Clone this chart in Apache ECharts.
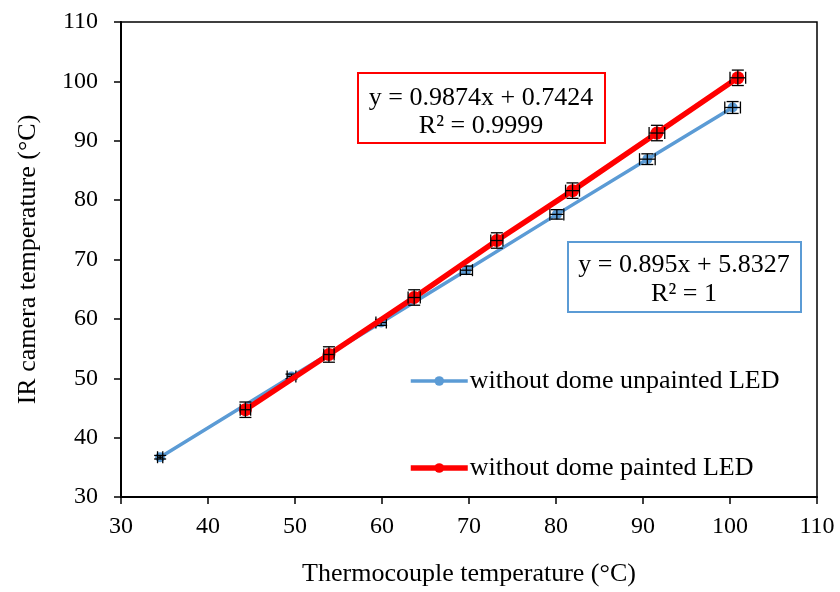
<!DOCTYPE html>
<html>
<head>
<meta charset="utf-8">
<script src="https://cdn.jsdelivr.net/npm/echarts@6/dist/echarts.min.js"></script>
<style>
  html, body { margin: 0; padding: 0; background: #fff; }
  #chart { width: 840px; height: 592px; }
</style>
</head>
<body>
<div id="chart"></div>
<script>
// unpainted LED (blue)
const unpaintedX = [34.5, 49.6, 59.9, 69.7, 80.1, 90.5, 100.3];
const unpaintedY = [36.7, 50.3, 59.4, 68.2, 77.6, 86.9, 95.6];
const unpaintedXErr = [0.3, 0.5, 0.6, 0.7, 0.8, 0.9, 0.9];
const unpaintedYErr = [0.3, 0.4, 0.5, 0.7, 0.8, 0.9, 1.0];

// painted LED (red)
const paintedX = [44.3, 53.9, 63.7, 73.2, 81.9, 91.6, 100.9];
const paintedY = [44.7, 54.0, 63.6, 73.2, 81.6, 91.3, 100.6];
const paintedXErr = [0.6, 0.6, 0.7, 0.7, 0.8, 0.9, 0.9];
const paintedYErr = [1.3, 1.3, 1.3, 1.3, 1.3, 1.3, 1.3];

const xTicks = [30, 40, 50, 60, 70, 80, 90, 100, 110];
const yTicks = [30, 40, 50, 60, 70, 80, 90, 100, 110];

const FONT = '"Liberation Serif", "Times New Roman", serif';
const BLUE = '#5b9bd5';
const RED = '#ff0000';

const zip = (xs, ys) => xs.map((x, i) => [x, ys[i]]);
const errData = (xs, ys, xe, ye) => xs.map((x, i) => [x, ys[i], xe[i], ye[i]]);

function renderErr(params, api) {
  const x = api.value(0), y = api.value(1), xe = api.value(2), ye = api.value(3);
  const top = api.coord([x, y + ye]);
  const bot = api.coord([x, y - ye]);
  const lft = api.coord([x - xe, y]);
  const rgt = api.coord([x + xe, y]);
  const cap = 6;
  const style = { stroke: '#000', lineWidth: 1.3 };
  const line = (x1, y1, x2, y2) => ({ type: 'line', shape: { x1, y1, x2, y2 }, style });
  return {
    type: 'group',
    children: [
      line(top[0], top[1], bot[0], bot[1]),
      line(top[0] - cap, top[1], top[0] + cap, top[1]),
      line(bot[0] - cap, bot[1], bot[0] + cap, bot[1]),
      line(lft[0], lft[1], rgt[0], rgt[1]),
      line(lft[0], lft[1] - cap, lft[0], lft[1] + cap),
      line(rgt[0], rgt[1] - cap, rgt[0], rgt[1] + cap)
    ]
  };
}

const chart = echarts.init(document.getElementById('chart'));
chart.setOption({
  animation: false,
  textStyle: { fontFamily: FONT },
  grid: {
    left: 121, right: 23, top: 22, bottom: 93,
    show: true, borderColor: '#000', borderWidth: 1.5, backgroundColor: 'transparent'
  },
  legend: {
    orient: 'vertical',
    left: 403,
    top: 363,
    itemWidth: 57,
    itemHeight: 12,
    itemGap: 61,
    textStyle: { fontFamily: FONT, fontSize: 26, lineHeight: 26, color: '#000', padding: [0, 0, 0, -3] },
    data: [
      { name: 'without dome unpainted LED', lineStyle: { width: 3.5, color: BLUE } },
      { name: 'without dome painted LED', lineStyle: { width: 5.5, color: RED } }
    ]
  },
  xAxis: {
    type: 'value',
    min: xTicks[0], max: xTicks[xTicks.length - 1], interval: 10,
    name: 'Thermocouple temperature (°C)',
    nameLocation: 'middle', nameGap: 64,
    nameTextStyle: { fontFamily: FONT, fontSize: 26, color: '#000' },
    axisLine: { lineStyle: { color: '#000', width: 2 } },
    axisTick: { show: true, inside: false, length: 7, lineStyle: { color: '#000', width: 1.5 } },
    axisLabel: { fontFamily: FONT, fontSize: 24, color: '#000', margin: 18 },
    splitLine: { show: false }
  },
  yAxis: {
    type: 'value',
    min: yTicks[0], max: yTicks[yTicks.length - 1], interval: 10,
    name: 'IR camera temperature (°C)',
    nameLocation: 'middle', nameGap: 80,
    nameTextStyle: { fontFamily: FONT, fontSize: 26, color: '#000' },
    axisLine: { lineStyle: { color: '#000', width: 2 } },
    axisTick: { show: true, inside: false, length: 7, lineStyle: { color: '#000', width: 1.5 } },
    axisLabel: { fontFamily: FONT, fontSize: 24, color: '#000', margin: 23 },
    splitLine: { show: false }
  },
  series: [
    {
      name: 'without dome unpainted LED',
      type: 'line',
      data: zip(unpaintedX, unpaintedY),
      symbol: 'circle',
      symbolSize: 10,
      itemStyle: { color: BLUE },
      lineStyle: { color: BLUE, width: 3.5 },
      z: 2
    },
    {
      type: 'custom',
      renderItem: renderErr,
      data: errData(unpaintedX, unpaintedY, unpaintedXErr, unpaintedYErr),
      z: 3
    },
    {
      name: 'without dome painted LED',
      type: 'line',
      data: zip(paintedX, paintedY),
      symbol: 'circle',
      symbolSize: 13,
      itemStyle: { color: RED },
      lineStyle: { color: RED, width: 5.5 },
      z: 4
    },
    {
      type: 'custom',
      renderItem: renderErr,
      data: errData(paintedX, paintedY, paintedXErr, paintedYErr),
      z: 5
    }
  ],
  graphic: [
    {
      type: 'group', left: 357, top: 72,
      children: [
        { type: 'rect', shape: { x: 0, y: 0, width: 247, height: 70 }, style: { fill: '#fff', stroke: RED, lineWidth: 2 } },
        { type: 'text', x: 123, y: 25, style: { text: 'y = 0.9874x + 0.7424', font: '26px ' + FONT, fill: '#000', align: 'center', verticalAlign: 'middle' } },
        { type: 'text', x: 123, y: 53, style: { text: 'R² = 0.9999', font: '26px ' + FONT, fill: '#000', align: 'center', verticalAlign: 'middle' } }
      ]
    },
    {
      type: 'group', left: 567, top: 241,
      children: [
        { type: 'rect', shape: { x: 0, y: 0, width: 233, height: 70 }, style: { fill: '#fff', stroke: BLUE, lineWidth: 2 } },
        { type: 'text', x: 116, y: 23, style: { text: 'y = 0.895x + 5.8327', font: '26px ' + FONT, fill: '#000', align: 'center', verticalAlign: 'middle' } },
        { type: 'text', x: 116, y: 52, style: { text: 'R² = 1', font: '26px ' + FONT, fill: '#000', align: 'center', verticalAlign: 'middle' } }
      ]
    }
  ]
});
</script>
</body>
</html>
